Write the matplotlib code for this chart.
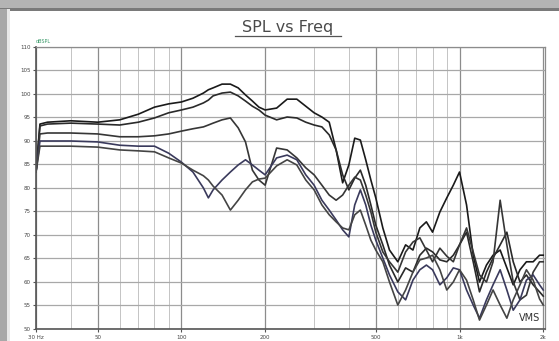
import matplotlib.pyplot as plt
from matplotlib.patches import Rectangle
from matplotlib.lines import Line2D
from matplotlib.ticker import FixedLocator, NullFormatter

# frequency points (Hz), shared by all traces
freq = [30, 31, 33, 40, 50, 60, 70, 80, 90, 100, 110, 120, 125, 130, 140, 150,
        160, 170, 180, 190, 200, 220, 240, 260, 280, 300, 320, 340, 360, 380,
        400, 420, 440, 460, 480, 500, 530, 560, 600, 640, 680, 720, 760, 800,
        850, 900, 950, 1000, 1060, 1120, 1180, 1250, 1320, 1400, 1480, 1560,
        1650, 1740, 1840, 1940, 2000]

# SPL traces (dB)
spl_a = [83.4, 93.6, 94.0, 94.3, 94.0, 94.5, 95.7, 97.2, 97.9, 98.3, 99.1, 100.2,
         100.9, 101.3, 102.1, 102.1, 101.3, 99.8, 98.5, 97.2, 96.6, 97.0, 98.9,
         98.9, 97.4, 96.0, 95.1, 94.0, 88.1, 81.1, 84.9, 90.6, 90.2, 86.0, 81.7,
         77.9, 71.5, 66.8, 64.3, 67.9, 66.8, 71.5, 72.8, 70.6, 74.9, 77.9, 80.6,
         83.4, 76.4, 65.7, 60.0, 63.6, 65.7, 66.8, 63.0, 59.4, 62.6, 64.3, 64.3,
         65.7, 65.7]
spl_b = [83.4, 93.2, 93.6, 93.8, 93.6, 93.4, 94.0, 94.9, 96.0, 96.6, 97.2, 98.1,
         98.7, 99.6, 100.2, 100.4, 99.6, 98.5, 97.4, 96.6, 95.5, 94.5, 95.1,
         94.9, 94.0, 93.4, 93.0, 91.3, 88.1, 82.8, 79.6, 82.1, 83.8, 80.6, 76.4,
         72.1, 67.9, 63.6, 60.0, 63.0, 62.1, 65.7, 67.2, 66.4, 64.7, 64.3, 65.7,
         67.9, 70.6, 64.3, 57.9, 62.1, 65.1, 67.9, 70.6, 64.3, 60.0, 61.5, 59.4,
         57.9, 57.0]
spl_c = [83.4, 91.5, 91.7, 91.7, 91.5, 90.9, 90.9, 91.1, 91.5, 92.1, 92.6, 93.0,
         93.4, 93.8, 94.5, 94.9, 92.8, 89.8, 83.8, 81.7, 80.6, 88.5, 88.1, 86.4,
         84.3, 82.8, 80.6, 78.5, 77.4, 78.5, 80.6, 82.3, 81.7, 78.5, 74.9, 70.6,
         66.4, 64.3, 62.1, 66.4, 68.5, 69.4, 66.8, 64.3, 67.2, 65.5, 64.3, 67.9,
         71.5, 66.4, 61.5, 60.0, 64.3, 77.4, 67.9, 60.0, 56.2, 57.2, 62.1, 64.3,
         64.3]
spl_d = [83.4, 90.0, 90.0, 90.0, 89.8, 89.1, 88.9, 88.9, 87.4, 85.5, 83.4, 80.0,
         77.9, 79.6, 81.7, 83.4, 84.9, 86.0, 84.9, 83.8, 82.8, 86.4, 87.0, 86.0,
         82.8, 80.6, 77.4, 75.3, 73.2, 71.1, 69.6, 76.4, 79.6, 76.4, 72.1, 68.9,
         65.1, 61.5, 57.9, 56.2, 60.4, 62.6, 63.6, 62.6, 59.4, 60.9, 63.0, 62.6,
         58.3, 55.1, 52.3, 56.2, 59.4, 62.6, 58.3, 54.0, 56.2, 60.4, 61.5, 59.4,
         58.3]
spl_e = [83.4, 88.9, 88.9, 88.9, 88.7, 88.1, 87.9, 87.7, 86.4, 85.3, 83.8, 82.6,
         81.7, 80.4, 78.5, 75.3, 77.4, 79.6, 81.3, 81.9, 82.1, 84.7, 86.0, 84.9,
         81.7, 79.6, 76.4, 74.3, 72.8, 71.5, 71.1, 74.3, 75.3, 72.1, 68.9, 66.8,
         64.3, 60.0, 55.1, 58.3, 62.1, 64.7, 65.1, 65.7, 62.6, 58.3, 60.0, 62.6,
         60.4, 56.2, 51.9, 55.1, 58.3, 55.1, 52.3, 56.2, 59.4, 62.6, 60.4, 56.4,
         55.1]

y_ticks = [50, 55, 60, 65, 70, 75, 80, 85, 90, 95, 100, 105, 110]
x_ticks = [30, 50, 100, 200, 500, 1000, 2000]
x_labels = ["30 Hz", "50", "100", "200", "500", "1k", "2k"]

fig = plt.figure(figsize=(5.59, 3.41), dpi=100)
fig.patch.set_facecolor("white")

# window chrome: grey strip on top, grey border on the left
fig.patches.append(Rectangle((0, 0.975), 1, 0.025, transform=fig.transFigure,
                             facecolor="#b4b4b4", edgecolor="none"))
fig.patches.append(Rectangle((0, 0.968), 1, 0.008, transform=fig.transFigure,
                             facecolor="#7a7a7a", edgecolor="none"))
fig.patches.append(Rectangle((0, 0), 0.013, 0.975, transform=fig.transFigure,
                             facecolor="#a8a8a8", edgecolor="none"))
fig.patches.append(Rectangle((0.013, 0), 0.004, 0.975, transform=fig.transFigure,
                             facecolor="#e8e8e8", edgecolor="none"))

ax = fig.add_axes([0.0644, 0.0352, 0.9106, 0.827])
ax.set_xscale("log")
ax.set_xlim(30, 2030)
ax.set_ylim(50, 110)

ax.xaxis.set_major_locator(FixedLocator(x_ticks))
ax.set_xticklabels(x_labels)
ax.xaxis.set_minor_locator(FixedLocator([40, 60, 70, 80, 90, 300, 400, 600, 700, 800, 900]))
ax.xaxis.set_minor_formatter(NullFormatter())
ax.set_yticks(y_ticks)

ax.grid(True, which="major", axis="y", color="#a8a8a8", lw=0.9)
ax.grid(True, which="major", axis="x", color="#8c8c8c", lw=0.9)
ax.grid(True, which="minor", axis="x", color="#c4c4c4", lw=0.7)
ax.set_axisbelow(True)

ax.tick_params(axis="both", which="both", length=2.5, width=0.8, color="#555555",
               labelsize=4, labelcolor="#444444", pad=1.5)
ax.tick_params(axis="x", which="minor", length=0)
for side in ["left", "bottom"]:
    ax.spines[side].set_color("#555555")
    ax.spines[side].set_linewidth(1.2)
for side in ["top", "right"]:
    ax.spines[side].set_color("#8c8c8c")
    ax.spines[side].set_linewidth(0.9)

colors = ["#1a1a1a", "#2a2a2a", "#363636", "#3a3a5c", "#444444"]
for spl, c in zip([spl_a, spl_b, spl_c, spl_d, spl_e], colors):
    ax.plot(freq, spl, color=c, lw=1.2)

# title with underline
fig.text(0.515, 0.918, "SPL vs Freq", ha="center", va="center",
         fontsize=11.5, color="#4a4a4a")
fig.lines.append(Line2D([0.42, 0.61], [0.893, 0.893], transform=fig.transFigure,
                        color="#555555", lw=0.9))

ax.text(0.0, 1.01, "dBSPL", transform=ax.transAxes, fontsize=3.5,
        color="#3a9a6a", ha="left", va="bottom")
ax.text(0.99, 0.02, "VMS", transform=ax.transAxes, fontsize=7,
        color="#333333", ha="right", va="bottom")

fig.savefig("out.png", dpi=100)
